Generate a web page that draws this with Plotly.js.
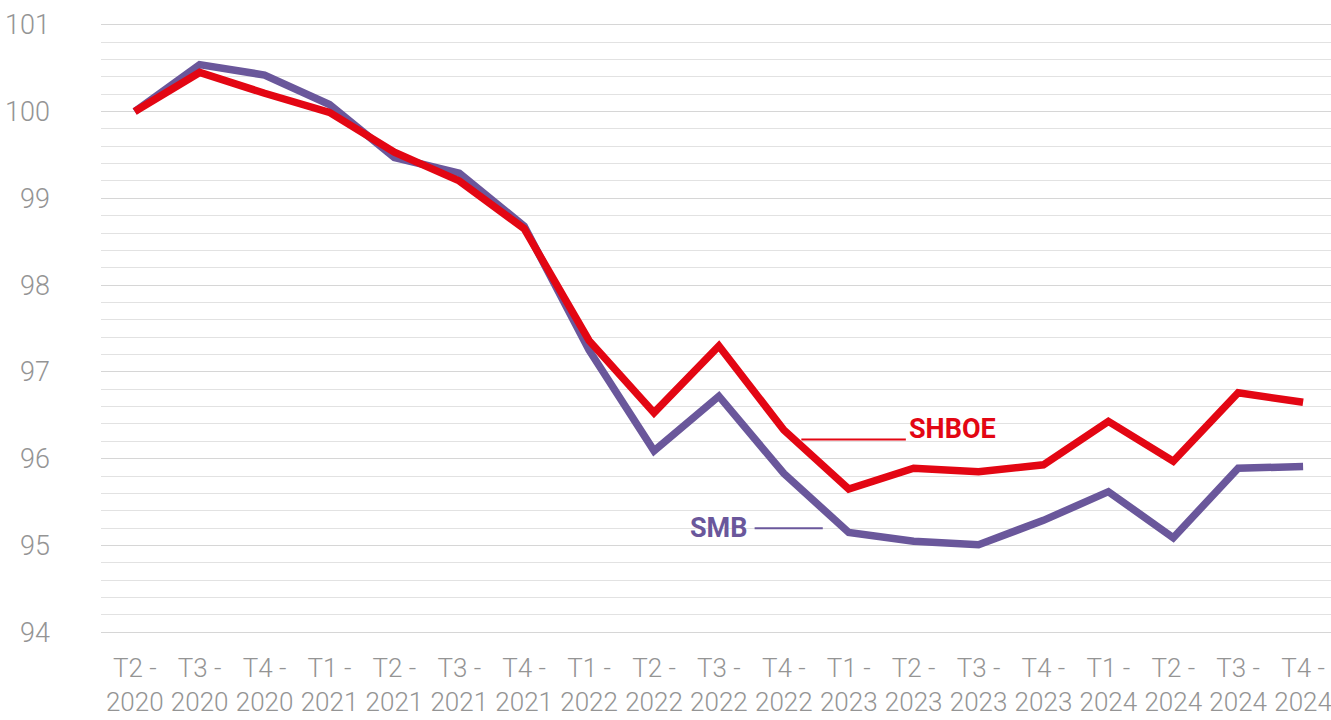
<!DOCTYPE html>
<html>
<head>
<meta charset="utf-8">
<script src="https://cdn.plot.ly/plotly-3.0.1.min.js"></script>
<style>html,body{margin:0;padding:0;background:#fff;}#chart{width:1331px;height:720px;}</style>
</head>
<body>
<div id="chart"></div>
<script>
const categories = ["T2 -<br>2020","T3 -<br>2020","T4 -<br>2020","T1 -<br>2021","T2 -<br>2021","T3 -<br>2021","T4 -<br>2021","T1 -<br>2022","T2 -<br>2022","T3 -<br>2022","T4 -<br>2022","T1 -<br>2023","T2 -<br>2023","T3 -<br>2023","T4 -<br>2023","T1 -<br>2024","T2 -<br>2024","T3 -<br>2024","T4 -<br>2024"];
const shboe = [100, 100.45, 100.21, 99.99, 99.53, 99.2, 98.65, 97.36, 96.53, 97.3, 96.33, 95.65, 95.89, 95.85, 95.93, 96.43, 95.97, 96.76, 96.65];
const smb   = [100, 100.54, 100.42, 100.08, 99.47, 99.29, 98.68, 97.25, 96.09, 96.72, 95.83, 95.15, 95.05, 95.01, 95.29, 95.62, 95.09, 95.89, 95.91];
const idx = categories.map((_, i) => i);

const red = "#e30613";
const purple = "#6a579b";

const traces = [
  {x: idx, y: smb, type: "scatter", mode: "lines", name: "SMB",
   line: {color: purple, width: 7.5, shape: "linear"}, hoverinfo: "skip"},
  {x: idx, y: shboe, type: "scatter", mode: "lines", name: "SHBOE",
   line: {color: red, width: 7.5, shape: "linear"}, hoverinfo: "skip"}
];

const tickFont = {size: 26, color: "#949494", family: "Roboto, sans-serif", weight: 300};

const layout = {
  width: 1331, height: 720,
  margin: {l: 101, r: 0, t: 16, b: 79},
  paper_bgcolor: "#fff", plot_bgcolor: "#fff",
  showlegend: false,
  font: {family: "Roboto, sans-serif", color: "#949494"},
  xaxis: {
    range: [-0.52, 18.43],
    tickmode: "array", tickvals: idx, ticktext: categories,
    showgrid: false, zeroline: false, showline: false, ticks: "",
    ticklabelstandoff: 9,
    ticklabeloverflow: "allow",
    tickfont: tickFont
  },
  yaxis: {
    range: [93.9, 101.1],
    tickmode: "linear", tick0: 94, dtick: 1,
    showgrid: true, gridcolor: "#d6d6d6", gridwidth: 1,
    minor: {dtick: 0.2, showgrid: true, gridcolor: "#e2e2e2", gridwidth: 1},
    zeroline: false, showline: false, ticks: "",
    ticklabelstandoff: 50,
    tickfont: {size: 27, color: "#949494", family: "Roboto, sans-serif", weight: 300}
  },
  shapes: [
    {type: "line", xref: "paper", x0: 0, x1: 1, yref: "y", y0: 100, y1: 100,
     line: {color: "#000", width: 1.2}, layer: "below"},
    {type: "line", xref: "x", x0: 10.27, x1: 11.88, yref: "y", y0: 96.22, y1: 96.22,
     line: {color: red, width: 2}},
    {type: "line", xref: "x", x0: 9.55, x1: 10.6, yref: "y", y0: 95.2, y1: 95.2,
     line: {color: purple, width: 2}}
  ],
  annotations: [
    {x: 11.9, y: 96.34, xref: "x", yref: "y", text: "<b>SHBOE</b>", showarrow: false,
     xanchor: "left", yanchor: "middle", font: {size: 27, color: red, family: "Roboto, sans-serif"}},
    {x: 9.48, y: 95.2, xref: "x", yref: "y", text: "<b>SMB</b>", showarrow: false,
     xanchor: "right", yanchor: "middle", font: {size: 27, color: purple, family: "Roboto, sans-serif"}}
  ]
};

Plotly.newPlot("chart", traces, layout, {staticPlot: true, displayModeBar: false});
</script>
</body>
</html>
